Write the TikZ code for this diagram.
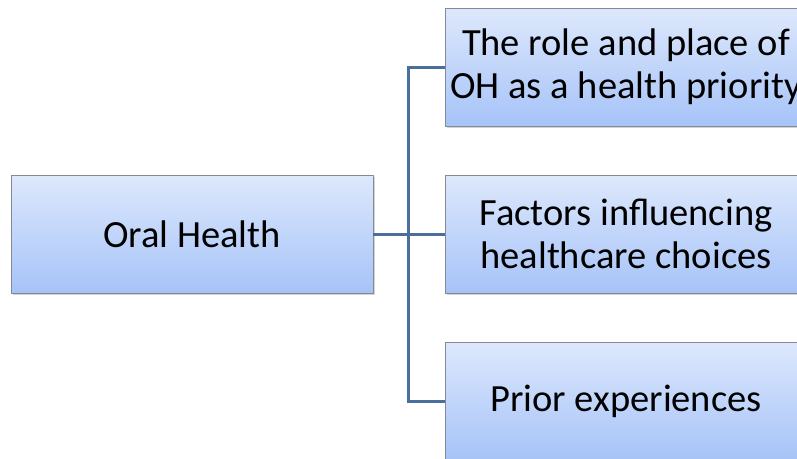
\documentclass[tikz,border=0pt]{standalone}
\usepackage{fontspec}
\setmainfont{Carlito}
\usetikzlibrary{shadows}
\definecolor{linkc}{HTML}{4A6F9C}
\definecolor{boxtop}{HTML}{DDE8FC}
\definecolor{boxbot}{HTML}{A6C3F8}
\definecolor{boxedge}{HTML}{858A94}
\tikzset{
  topic/.style={draw=boxedge, line width=0.8pt, top color=boxtop, bottom color=boxbot,
    minimum width=362pt, minimum height=118pt, inner sep=0pt, align=center,
    font=\fontsize{38.5}{43}\selectfont,
    drop shadow={opacity=0.35, shadow xshift=2pt, shadow yshift=-2pt}},
  link/.style={draw=linkc, line width=3pt}
}
\begin{document}
\begin{tikzpicture}[x=1pt,y=-1pt]
\useasboundingbox (0,0) rectangle (797,458);
\clip (0,0) rectangle (797,458);
\node[topic] (oh) at (192,234) {Oral Health};
\node[topic] (r1) at (626,67) {The role and place of\\OH as a health priority};
\node[topic] (r2) at (626,234) {Factors influencing\\healthcare choices};
\node[topic] (r3) at (626,401) {Prior experiences};
\coordinate (j) at (408,234);
\draw[link] (oh.east) -- (j);
\draw[link] (r1.west) -| (j) |- (r3.west);
\draw[link] (j) -- (r2.west);
\end{tikzpicture}
\end{document}
